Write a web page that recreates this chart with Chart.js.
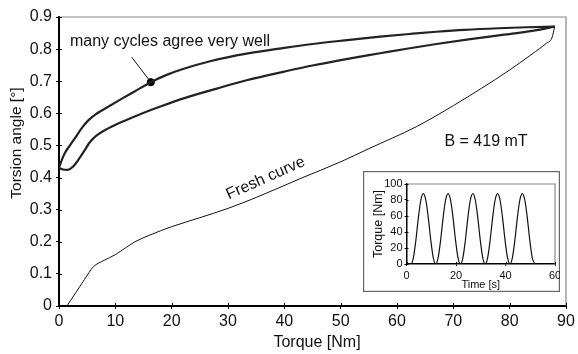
<!DOCTYPE html>
<html>
<head>
<meta charset="utf-8">
<script src="https://cdn.jsdelivr.net/npm/chart.js@4.4.1/dist/chart.umd.min.js"></script>
<style>
  body { margin: 0; background: #fff; }
  #wrap { position: relative; width: 578px; height: 354px; }
  #mainChart { position: absolute; left: 0; top: 0; }
  #insetChart { position: absolute; left: 363px; top: 171px; }
</style>
</head>
<body>
<div id="wrap">
  <canvas id="mainChart" width="578" height="354"></canvas>
  <canvas id="insetChart" width="197" height="121"></canvas>
</div>
<script>
// hysteresis loop - upper branch (torque Nm / angle deg)
const upperTorque = [0, 0.5, 1, 2, 2.8, 4, 5.2, 6.5, 8.2, 11.1, 13.5, 16.3, 19, 22, 27, 33.3, 40, 45, 50, 57, 62.8, 67, 72, 78, 83, 88];
const upperAngle  = [0.43, 0.455, 0.475, 0.502, 0.522, 0.553, 0.578, 0.597, 0.615, 0.645, 0.669, 0.697, 0.719, 0.738, 0.763, 0.786, 0.804, 0.816, 0.826, 0.839, 0.848, 0.854, 0.86, 0.865, 0.868, 0.87];

// lower branch
const lowerTorque = [0, 0.7, 1.5, 2.2, 2.8, 3.7, 4.6, 5.3, 6.1, 7, 8.2, 11, 14.1, 18, 22.4, 28, 33.3, 40, 45, 51, 57, 62, 67, 73, 79, 84, 88];
const lowerAngle  = [0.43, 0.425, 0.424, 0.43, 0.44, 0.462, 0.486, 0.506, 0.522, 0.535, 0.548, 0.572, 0.595, 0.621, 0.648, 0.677, 0.703, 0.73, 0.749, 0.769, 0.787, 0.802, 0.816, 0.831, 0.845, 0.857, 0.87];

// fresh curve (first loading)
const freshTorque = [1.4, 3, 4.5, 6.1, 8, 10, 13.5, 16, 20, 25, 30, 35, 43, 50, 55, 63.5, 70, 75, 80, 84, 86.5, 87.5, 88];
const freshAngle  = [0, 0.042, 0.082, 0.122, 0.142, 0.16, 0.2, 0.22, 0.247, 0.275, 0.304, 0.338, 0.398, 0.449, 0.49, 0.559, 0.624, 0.678, 0.735, 0.785, 0.818, 0.835, 0.87];

// marked point + leader start
const markTorque = [16.3];
const markAngle = [0.697];
const leaderTorque = [12.9, 16.3];
const leaderAngle = [0.775, 0.697];

const torqueTicks = [0, 10, 20, 30, 40, 50, 60, 70, 80, 90];
const angleTicks = [0, 0.1, 0.2, 0.3, 0.4, 0.5, 0.6, 0.7, 0.8, 0.9];

// inset: torque vs time
const timeS = [0, 1.8, 2.8, 3.8, 4.8, 5.8, 6.8, 7.8, 8.8, 9.8, 10.8, 11.8, 12.8, 13.8, 14.8, 15.8, 16.8, 17.8, 18.8, 19.8, 20.8, 21.8, 22.8, 23.8, 24.8, 25.8, 26.8, 27.8, 28.8, 29.8, 30.8, 31.8, 32.8, 33.8, 34.8, 35.8, 36.8, 37.8, 38.8, 39.8, 40.8, 41.8, 42.8, 43.8, 44.8, 45.8, 46.8, 47.8, 48.8, 49.8, 50.8, 51.8];
const timeTorque = [0, 0, 8, 30, 58, 80, 88, 80, 58, 30, 8, 0, 8, 30, 58, 80, 88, 80, 58, 30, 8, 0, 8, 30, 58, 80, 88, 80, 58, 30, 8, 0, 8, 30, 58, 80, 88, 80, 58, 30, 8, 0, 8, 30, 58, 80, 88, 80, 58, 30, 8, 0];
const timeTicks = [0, 20, 40, 60];
const insetTorqueTicks = [0, 20, 40, 60, 80, 100];

const FONT = "'Liberation Sans', Arial, sans-serif";
Chart.defaults.font.family = FONT;
Chart.defaults.color = '#111';
Chart.defaults.animation = false;

function pts(xs, ys){
  return xs.map((x, i) => ({x: x, y: ys[i]}));
}

// gray top/right frame, inward half of tick marks
function frameAndTicks(chart, len){
  const {ctx, chartArea: a, scales: {x, y}} = chart;
  ctx.save();
  ctx.strokeStyle = '#888';
  ctx.lineWidth = 1.2;
  ctx.beginPath();
  ctx.moveTo(a.left, a.top);
  ctx.lineTo(a.right, a.top);
  ctx.lineTo(a.right, a.bottom);
  ctx.stroke();
  ctx.strokeStyle = '#000';
  ctx.lineWidth = 1;
  ctx.beginPath();
  x.ticks.forEach(t => {
    const px = Math.round(x.getPixelForValue(t.value)) + 0.5;
    ctx.moveTo(px, a.bottom);
    ctx.lineTo(px, a.bottom - len);
  });
  y.ticks.forEach(t => {
    const py = Math.round(y.getPixelForValue(t.value)) + 0.5;
    ctx.moveTo(a.left, py);
    ctx.lineTo(a.left + len, py);
  });
  ctx.stroke();
  ctx.restore();
}

const mainPlugin = {
  id: 'mainDeco',
  afterDraw(chart){
    frameAndTicks(chart, 3);
    const {ctx, scales: {x, y}} = chart;
    ctx.save();
    ctx.fillStyle = '#111';
    ctx.font = '16px ' + FONT;
    ctx.textBaseline = 'middle';
    ctx.textAlign = 'left';
    ctx.fillText('many cycles agree very well', x.getPixelForValue(1.95), y.getPixelForValue(0.823));
    ctx.textAlign = 'center';
    ctx.fillText('B = 419 mT', x.getPixelForValue(75.8), y.getPixelForValue(0.512));
    // axis titles
    ctx.fillText('Torque [Nm]', 317, 343);
    ctx.save();
    ctx.translate(17, 143);
    ctx.rotate(-Math.PI / 2);
    ctx.font = '15.5px ' + FONT;
    ctx.fillText('Torsion angle [°]', 0, 0);
    ctx.restore();
    ctx.translate(x.getPixelForValue(37), y.getPixelForValue(0.385));
    ctx.rotate(-24 * Math.PI / 180);
    ctx.textBaseline = 'alphabetic';
    ctx.fillText('Fresh curve', 0, 0);
    ctx.restore();
  }
};

new Chart(document.getElementById('mainChart'), {
  type: 'scatter',
  data: {
    datasets: [
      { data: pts(upperTorque, upperAngle), showLine: true, borderColor: '#222', borderWidth: 2.2, pointRadius: 0, cubicInterpolationMode: 'monotone' },
      { data: pts(lowerTorque, lowerAngle), showLine: true, borderColor: '#222', borderWidth: 2.2, pointRadius: 0, cubicInterpolationMode: 'monotone' },
      { data: pts(freshTorque, freshAngle), showLine: true, borderColor: '#111', borderWidth: 1, pointRadius: 0, cubicInterpolationMode: 'monotone' },
      { data: pts(leaderTorque, leaderAngle), showLine: true, borderColor: '#111', borderWidth: 1, pointRadius: 0 },
      { data: pts(markTorque, markAngle), pointRadius: 3.6, backgroundColor: '#000', borderColor: '#000' }
    ]
  },
  options: {
    responsive: false,
    layout: { padding: { left: 0, right: 12, top: 17, bottom: 0 } },
    plugins: { legend: { display: false }, tooltip: { enabled: false } },
    scales: {
      x: {
        type: 'linear', min: 0, max: 90,
        afterBuildTicks: s => { s.ticks = torqueTicks.map(v => ({value: v})); },
        afterFit: s => { s.height = 48; s.paddingRight = 0; s.paddingLeft = 0; },
        ticks: { font: { size: 16 }, padding: 3, maxRotation: 0, autoSkip: false, callback: v => String(v) },
        grid: { drawOnChartArea: false, tickLength: 3, color: '#000' },
        border: { color: '#000', width: 2 }
      },
      y: {
        type: 'linear', min: 0, max: 0.9,
        afterBuildTicks: s => { s.ticks = angleTicks.map(v => ({value: v})); },
        afterFit: s => { s.width = 59; s.paddingTop = 0; s.paddingBottom = 0; },
        ticks: { font: { size: 16 }, padding: 4, autoSkip: false, callback: v => v === 0 ? '0' : v.toFixed(1) },
        grid: { drawOnChartArea: false, tickLength: 3, color: '#000' },
        border: { color: '#000', width: 2 }
      }
    }
  },
  plugins: [mainPlugin]
});

const insetPlugin = {
  id: 'insetDeco',
  beforeDraw(chart){
    const ctx = chart.ctx;
    ctx.save();
    ctx.fillStyle = '#fff';
    ctx.fillRect(0, 0, chart.width, chart.height);
    ctx.strokeStyle = '#666';
    ctx.lineWidth = 1.2;
    ctx.strokeRect(0.6, 0.6, chart.width - 1.2, chart.height - 1.2);
    ctx.restore();
  },
  afterDraw(chart){
    frameAndTicks(chart, 2);
  }
};

new Chart(document.getElementById('insetChart'), {
  type: 'scatter',
  data: {
    datasets: [
      { data: pts(timeS, timeTorque), showLine: true, borderColor: '#111', borderWidth: 1.2, pointRadius: 0, cubicInterpolationMode: 'monotone' }
    ]
  },
  options: {
    responsive: false,
    layout: { padding: { left: 0, right: 5, top: 13, bottom: 0 } },
    plugins: { legend: { display: false }, tooltip: { enabled: false } },
    scales: {
      x: {
        type: 'linear', min: 0, max: 60,
        afterBuildTicks: s => { s.ticks = timeTicks.map(v => ({value: v})); },
        afterFit: s => { s.height = 28; s.paddingRight = 0; s.paddingLeft = 0; },
        ticks: { font: { size: 11 }, padding: 3, maxRotation: 0, autoSkip: false, callback: v => String(v) },
        grid: { drawOnChartArea: false, tickLength: 2, color: '#000' },
        border: { color: '#000', width: 1.5 },
        title: { display: true, text: 'Time [s]', font: { size: 11 }, padding: { top: 0, bottom: 0 } }
      },
      y: {
        type: 'linear', min: 0, max: 100,
        afterBuildTicks: s => { s.ticks = insetTorqueTicks.map(v => ({value: v})); },
        afterFit: s => { s.width = 43.5; s.paddingTop = 0; s.paddingBottom = 0; },
        ticks: { font: { size: 11 }, padding: 2, autoSkip: false, callback: v => String(v) },
        grid: { drawOnChartArea: false, tickLength: 2, color: '#000' },
        border: { color: '#000', width: 1.5 },
        title: { display: true, text: 'Torque [Nm]', font: { size: 12.5 }, padding: { top: 8, bottom: 0 } }
      }
    }
  },
  plugins: [insetPlugin]
});
</script>
</body>
</html>
